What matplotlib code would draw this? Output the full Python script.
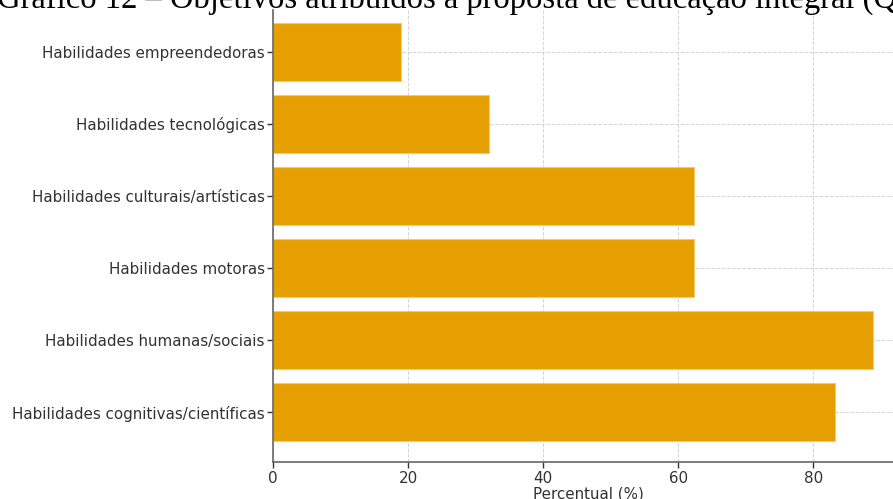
import matplotlib
matplotlib.use("Agg")
import matplotlib.pyplot as plt

# dados (de cima para baixo no gráfico)
categorias = [
    "Habilidades empreendedoras",
    "Habilidades tecnológicas",
    "Habilidades culturais/artísticas",
    "Habilidades motoras",
    "Habilidades humanas/sociais",
    "Habilidades cognitivas/científicas",
]
percentuais = [19, 32, 62.4, 62.4, 88.8, 83.2]
ticks_x = [0, 20, 40, 60, 80]

titulo = "Gráfico 12 – Objetivos atribuídos à proposta de educação integral (Q"

fig = plt.figure(figsize=(8.93, 4.99), dpi=100)
ax = fig.add_axes([273 / 893, 37 / 499, 630 / 893, 452 / 499])

# barras: primeira categoria no topo
pos = list(range(len(categorias)))[::-1]
ax.barh(pos, percentuais, height=0.8, color="#E69F00",
        edgecolor="#F5C96A", linewidth=0.8, zorder=2)

ax.set_yticks(pos)
ax.set_yticklabels(categorias, fontsize=10.9, color="#333333")
ax.set_xticks(ticks_x)
ax.set_xticklabels([str(t) for t in ticks_x], fontsize=10.9, color="#333333")
ax.set_xlim(0, 93.3)
ax.set_ylim(-0.694, 5.583)
ax.set_xlabel("Percentual (%)", fontsize=10.9, color="#333333", labelpad=0)

ax.grid(True, linestyle="--", color="#d3d3d3", linewidth=0.7, zorder=0)
ax.set_axisbelow(True)
for s in ["top", "right"]:
    ax.spines[s].set_visible(False)
for s in ["left", "bottom"]:
    ax.spines[s].set_color("#666666")
    ax.spines[s].set_linewidth(1.2)
ax.tick_params(colors="#333333", length=4, width=1)
ax.tick_params(axis="y", pad=2)
ax.tick_params(axis="x", pad=2.5)

# título do documento, cortado na borda superior
fig.text(-3 / 893, 1 - 8 / 499, titulo, fontsize=23.5,
         family="Liberation Serif", ha="left", va="baseline", color="black")

fig.savefig("out.png", dpi=100)
